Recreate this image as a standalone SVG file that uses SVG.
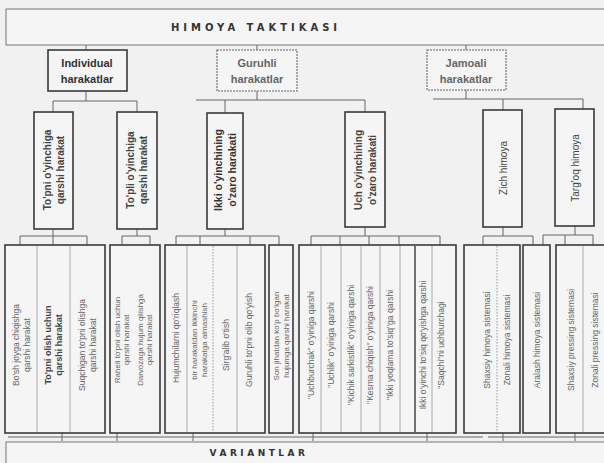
<svg xmlns="http://www.w3.org/2000/svg" width="604" height="463" viewBox="0 0 604 463">
<style>
.bg{fill:#f1f1f1}
.box{fill:#f5f5f5;stroke:#3a3a3a;stroke-width:1.6}
.thin{fill:#f5f5f5;stroke:#777;stroke-width:1}
.dash{fill:#f5f5f5;stroke:#666;stroke-width:1.1;stroke-dasharray:2 1}
.dv{stroke:#aaa;stroke-width:1}
.dvd{stroke:#999;stroke-width:1;stroke-dasharray:1.5 1.5}
.dk{stroke:#3a3a3a;stroke-width:1.4}
.ln{stroke:#666;stroke-width:1;fill:none}
text{font-family:"Liberation Sans",Arial,sans-serif;text-anchor:middle;dominant-baseline:central}
.title{font-family:"DejaVu Sans",Verdana,sans-serif;font-weight:bold;font-size:10px;letter-spacing:4px;fill:#333}
.h2{font-size:11px;font-weight:bold;fill:#333}
.h2l{font-size:11px;font-weight:bold;fill:#666}
.h3{font-size:10px;font-weight:bold;fill:#444}
.t{font-size:8.5px;fill:#666}
.ts{font-size:8px;fill:#666}
.tb{font-size:9px;fill:#444;font-weight:bold}
</style>
<rect class="bg" x="0" y="0" width="604" height="463"/>

<g id="connectors">
  <path class="ln" d="M86 45V50 M257 45V50 M466 45V50"/>
  <path class="ln" d="M86 91V101 M53 101H137 M53 101V112 M137 101V112"/>
  <path class="ln" d="M257 91V100 M196 100H365 M225 100V113 M365 100V112"/>
  <path class="ln" d="M466 90V99 M433 99H583 M503 99V110 M583 99V109"/>
  <path class="ln" d="M53 229V236 M20 236H87 M20 236V245 M53 236V245 M87 236V245"/>
  <path class="ln" d="M137 229V236 M122 236H150 M122 236V245 M150 236V245"/>
  <path class="ln" d="M225 229V236 M176 236H279 M176 236V245 M200 236V245 M250 236V245 M279 236V245"/>
  <path class="ln" d="M365 227V236 M311 236H440 M311 236V245 M340 236V245 M369 236V245 M399 236V245 M440 236V245"/>
  <path class="ln" d="M503 227V236 M483 236H533 M483 236V245 M533 236V245"/>
  <path class="ln" d="M575 226V235 M543 235H593 M543 235V245 M565 235V245 M593 235V245"/>
  <path class="ln" d="M62 433V441 M117 433V441 M193 433V441 M313 433V441 M427 433V441 M503 433V441 M575 433V441"/>
  <path class="ln" d="M8 437H483 M488 437H604"/>
</g>

<g id="n-title">
  <rect class="thin" x="6" y="9" width="640" height="36"/>
  <text class="title" x="256" y="27">HIMOYA TAKTIKASI</text>
</g>

<g id="n-individual">
  <rect class="box" x="48" y="50" width="79" height="41"/>
  <text class="h2" x="87" y="63">Individual</text>
  <text class="h2" x="87" y="79">harakatlar</text>
</g>
<g id="n-guruhli">
  <rect class="dash" x="217" y="50" width="80" height="41"/>
  <text class="h2l" x="257" y="63">Guruhli</text>
  <text class="h2l" x="257" y="79">harakatlar</text>
</g>
<g id="n-jamoali">
  <rect class="dash" x="427" y="50" width="79" height="40"/>
  <text class="h2l" x="466" y="63">Jamoali</text>
  <text class="h2l" x="466" y="79">harakatlar</text>
</g>

<g id="n-topni">
  <rect class="box" x="34" y="112" width="39" height="117"/>
  <text class="h3" transform="translate(47,170) rotate(-90)">To'pni o'yinchiga</text>
  <text class="h3" transform="translate(60,170) rotate(-90)">qarshi harakat</text>
</g>
<g id="n-topli">
  <rect class="box" x="117" y="112" width="40" height="117"/>
  <text class="h3" transform="translate(130,170) rotate(-90)">To'pli o'yinchiga</text>
  <text class="h3" transform="translate(143,170) rotate(-90)">qarshi harakat</text>
</g>
<g id="n-ikki">
  <rect class="box" x="207" y="113" width="36" height="116"/>
  <text class="h3" style="font-size:10.5px;fill:#333" transform="translate(218,170) rotate(-90)">Ikki o'yinchining</text>
  <text class="h3" style="font-size:10.5px;fill:#333" transform="translate(232,170) rotate(-90)">o'zaro harakati</text>
</g>
<g id="n-uch">
  <rect class="box" x="345" y="112" width="40" height="115"/>
  <text class="h3" transform="translate(358,170) rotate(-90)">Uch o'yinchining</text>
  <text class="h3" transform="translate(372,170) rotate(-90)">o'zaro harakati</text>
</g>
<g id="n-zich">
  <rect class="box" x="483" y="110" width="39" height="117"/>
  <text class="h3" style="font-weight:normal" transform="translate(503,168) rotate(-90)">Zich himoya</text>
</g>
<g id="n-targoq">
  <rect class="box" x="555" y="109" width="39" height="117"/>
  <text class="h3" style="font-weight:normal" transform="translate(575,168) rotate(-90)">Targ'oq himoya</text>
</g>

<g id="n-a">
  <rect class="box" x="5" y="245" width="100" height="188"/>
  <line class="dv" x1="37" y1="246" x2="37" y2="432"/>
  <line class="dv" x1="70" y1="246" x2="70" y2="432"/>
  <text class="t" transform="translate(16,345) rotate(-90)">Bo'sh joyga chiqishga</text>
  <text class="t" transform="translate(27,345) rotate(-90)">qarshi harakat</text>
  <text class="tb" transform="translate(48,345) rotate(-90)">To'pni olish uchun</text>
  <text class="tb" transform="translate(59,345) rotate(-90)">qarshi harakat</text>
  <text class="t" transform="translate(82,345) rotate(-90)">Suqchigan to'pni olishga</text>
  <text class="t" transform="translate(93,345) rotate(-90)">qarshi harakat</text>
</g>
<g id="n-b">
  <rect class="box" x="110" y="245" width="50" height="188"/>
  <text class="ts" transform="translate(117,340) rotate(-90)">Raheli to'pni olish uchun</text>
  <text class="ts" transform="translate(126.5,340) rotate(-90)">qarshi harakat</text>
  <text class="ts" transform="translate(140,340) rotate(-90)">Darvozaga hujum qilishga</text>
  <text class="ts" transform="translate(149.5,340) rotate(-90)">qarshi harakat</text>
</g>
<g id="n-c">
  <rect class="box" x="165" y="245" width="100" height="188"/>
  <line class="dv" x1="187" y1="246" x2="187" y2="432"/>
  <line class="dvd" x1="213" y1="246" x2="213" y2="432"/>
  <line class="dv" x1="237" y1="246" x2="237" y2="432"/>
  <text class="t" transform="translate(176,338) rotate(-90)">Hujumchilarni qo'riqlash</text>
  <text class="ts" transform="translate(194,340) rotate(-90)">bir harakatdan ikkinchi</text>
  <text class="ts" transform="translate(204,340) rotate(-90)">harakatga almashish</text>
  <text class="t" transform="translate(226,345) rotate(-90)">Sirg'alib o'tish</text>
  <text class="t" transform="translate(249,340) rotate(-90)">Guruhli to'pni olib qo'yish</text>
</g>
<g id="n-d">
  <rect class="box" x="269" y="245" width="24" height="188"/>
  <text class="ts" transform="translate(276.5,336) rotate(-90)">Son jihatdan ko'p bo'lgan</text>
  <text class="ts" transform="translate(286,336) rotate(-90)">hujumga qarshi harakat</text>
</g>
<g id="n-e">
  <rect class="box" x="299" y="245" width="157" height="188"/>
  <line class="dv" x1="321" y1="246" x2="321" y2="432"/>
  <line class="dv" x1="341" y1="246" x2="341" y2="432"/>
  <line class="dv" x1="361" y1="246" x2="361" y2="432"/>
  <line class="dv" x1="380" y1="246" x2="380" y2="432"/>
  <line class="dv" x1="400" y1="246" x2="400" y2="432"/>
  <line class="dk" x1="415" y1="246" x2="415" y2="432"/>
  <line class="dv" x1="432" y1="246" x2="432" y2="432"/>
  <text class="t" transform="translate(311,345) rotate(-90)">"Uchburchak" o'yiniga qarshi</text>
  <text class="t" transform="translate(331,345) rotate(-90)">"Uchlik" o'yiniga qarshi</text>
  <text class="t" transform="translate(351,345) rotate(-90)">"Kichik sarkistlik" o'yiniga qarshi</text>
  <text class="t" transform="translate(370,345) rotate(-90)">"Kesma chiqish" o'yiniga qarshi</text>
  <text class="t" transform="translate(390,345) rotate(-90)">"Ikki yoqlama to'siq"ga qarshi</text>
  <text class="t" transform="translate(423,345) rotate(-90)">Ikki o'yinchi to'siq qo'yishga qarshi</text>
  <text class="t" transform="translate(441,345) rotate(-90)">"Saqchi"ni uchburchagi</text>
</g>
<g id="n-f">
  <rect class="box" x="464" y="245" width="56" height="188"/>
  <line class="dvd" x1="497" y1="246" x2="497" y2="432"/>
  <text class="t" transform="translate(487,340) rotate(-90)">Shaxsiy himoya sistemasi</text>
  <text class="t" transform="translate(507,340) rotate(-90)">Zonali himoya sistemasi</text>
</g>
<g id="n-g">
  <rect class="box" x="523" y="245" width="27" height="188"/>
  <text class="t" transform="translate(537,340) rotate(-90)">Aralash himoya sistemasi</text>
</g>
<g id="n-h">
  <rect class="box" x="556" y="245" width="70" height="188"/>
  <line class="dv" x1="583" y1="246" x2="583" y2="432"/>
  <text class="t" transform="translate(571,340) rotate(-90)">Shaxsiy pressing sistemasi</text>
  <text class="t" transform="translate(595,340) rotate(-90)">Zonali pressing sistemasi</text>
</g>

<g id="n-variantlar">
  <rect class="thin" x="6" y="442" width="640" height="40"/>
  <text class="title" style="font-size:9px;letter-spacing:3.5px" x="259" y="453">VARIANTLAR</text>
</g>
</svg>
